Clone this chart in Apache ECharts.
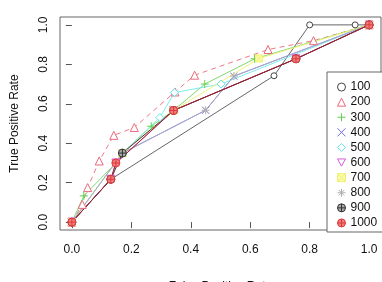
<!DOCTYPE html>
<html>
<head>
<meta charset="utf-8">
<script src="https://cdn.jsdelivr.net/npm/echarts@6/dist/echarts.min.js"></script>
<style>html,body{margin:0;padding:0;background:#fff}#c{width:382px;height:282px}</style>
</head>
<body>
<div id="c"></div>
<script>
// ---- data ----
const seriesNames = ['100','200','300','400','500','600','700','800','900','1000'];
const tickValues = [0, 0.2, 0.4, 0.6, 0.8, 1.0];

const fpr100 = [0, 0.131, 0.68, 0.80, 0.953, 1];
const tpr100 = [0, 0.217, 0.742, 1.0, 1.0, 1.0];
const fpr200 = [0, 0.035, 0.053, 0.092, 0.141, 0.21, 0.347, 0.413, 0.66, 0.813, 1];
const tpr200 = [0, 0.09, 0.175, 0.31, 0.44, 0.48, 0.66, 0.745, 0.875, 0.92, 1];
const fpr300 = [0, 0.04, 0.148, 0.17, 0.267, 0.342, 0.447, 0.615, 1];
const tpr300 = [0, 0.133, 0.30, 0.35, 0.486, 0.566, 0.70, 0.828, 1];
const fpr400 = [0, 0.17, 0.45, 0.545, 1];
const tpr400 = [0, 0.35, 0.567, 0.74, 1];
const fpr500 = [0, 0.17, 0.296, 0.345, 0.502, 1];
const tpr500 = [0, 0.35, 0.53, 0.657, 0.70, 1];
const fpr600 = [0, 0.131, 0.148, 0.342, 0.754, 1];
const tpr600 = [0, 0.217, 0.30, 0.566, 0.828, 1];
const fpr700 = [0, 0.17, 0.342, 0.63, 1];
const tpr700 = [0, 0.35, 0.566, 0.83, 1];
const fpr800 = [0, 0.17, 0.45, 0.545, 1];
const tpr800 = [0, 0.35, 0.567, 0.74, 1];
const fpr900 = [0, 0.131, 0.17, 0.342, 0.754, 1];
const tpr900 = [0, 0.217, 0.35, 0.566, 0.828, 1];
const fpr1000 = [0, 0.131, 0.148, 0.342, 0.754, 1];
const tpr1000 = [0, 0.217, 0.30, 0.566, 0.828, 1];

const fprs = [fpr100, fpr200, fpr300, fpr400, fpr500, fpr600, fpr700, fpr800, fpr900, fpr1000];
const tprs = [tpr100, tpr200, tpr300, tpr400, tpr500, tpr600, tpr700, tpr800, tpr900, tpr1000];

// ---- styles ----
const markColors = ['#444444','#E8697C','#5FCF4F','#6E6EE0','#5EE6E6','#DA5CDA','#F0F070','#B0B0B0','#333333','#E03838'];
const lineColors = ['#666666','#EC7A8B','#7EDB6E','#8A8AE6','#7FEDED','#DA5CDA','#F2F27A','#A8A8C8','#4A3030','#A3202C'];
const lineTypes  = ['solid',[5,4],'solid','solid','solid','solid','solid','solid','solid','solid'];
const P = {
  plus: 'path://M5,0L5,10M0,5L10,5',
  cross: 'path://M0,0L10,10M10,0L0,10',
  inv: 'path://M0,0L10,0L5,9Z',
  sqx: 'path://M0,0L10,0L10,10L0,10ZM0,0L10,10M10,0L0,10',
  ast: 'path://M5,0L5,10M0,5L10,5M1.5,1.5L8.5,8.5M8.5,1.5L1.5,8.5',
  cplus: 'path://M0,5A5,5,0,1,1,10,5A5,5,0,1,1,0,5ZM5,0L5,10M0,5L10,5'
};
const symbols = ['circle','triangle',P.plus,P.cross,'diamond',P.inv,P.sqx,P.ast,P.cplus,P.cplus];
const symSizes = [6,8,8,7,8,8,7,8,8,8];
const fills = ['#fff','#fff','none','none','#fff','#fff','#FBFBB0','none','#aaa','#EE8080'];

const series = seriesNames.map((n, i) => ({
  name: n,
  type: 'line',
  data: fprs[i].map((x, k) => [x, tprs[i][k]]),
  symbol: symbols[i],
  symbolSize: symSizes[i],
  showSymbol: true,
  animation: false,
  lineStyle: { color: lineColors[i], width: 1, type: lineTypes[i] },
  itemStyle: { color: fills[i], borderColor: markColors[i], borderWidth: 1 },
  emphasis: { disabled: true }
}));

const chart = echarts.init(document.getElementById('c'), null, { renderer: 'canvas' });
chart.setOption({
  animation: false,
  backgroundColor: '#fff',
  textStyle: { fontFamily: 'Liberation Sans, Arial, sans-serif' },
  grid: { left: 60, right: 1, top: 17, bottom: 52, outerBoundsMode: 'none', containLabel: false,
          show: true, borderColor: '#666', borderWidth: 1, backgroundColor: 'transparent' },
  xAxis: {
    type: 'value', min: -0.04, max: 1.04,
    name: 'False Positive Rate', nameLocation: 'middle', nameGap: 51,
    nameTextStyle: { fontSize: 12, color: '#111', fontFamily: 'Liberation Sans' },
    axisLine: { show: false },
    splitLine: { show: false },
    axisTick: { show: true, customValues: tickValues, length: 6, inside: false, lineStyle: { color: '#555' } },
    axisLabel: { customValues: tickValues, formatter: v => v.toFixed(1), fontSize: 12, color: '#111', margin: 14, fontFamily: 'Liberation Sans' }
  },
  yAxis: {
    type: 'value', min: -0.04, max: 1.04,
    name: 'True Positive Rate', nameLocation: 'middle', nameGap: 39,
    nameTextStyle: { fontSize: 12, color: '#111', fontFamily: 'Liberation Sans' },
    axisLine: { show: false },
    splitLine: { show: false },
    axisTick: { show: true, customValues: tickValues, length: 6, inside: false, lineStyle: { color: '#555' } },
    axisLabel: { customValues: tickValues, formatter: v => v.toFixed(1), fontSize: 12, color: '#111', margin: 10, rotate: 90, fontFamily: 'Liberation Sans' }
  },
  legend: {
    orient: 'vertical', left: 327, top: 72,
    padding: [8, 6, 2, 8],
    itemWidth: 8, itemHeight: 8, itemGap: 1, itemTextGap: 6,
    borderColor: '#666', borderWidth: 1, backgroundColor: '#fff',
    textStyle: { fontSize: 12, color: '#111', lineHeight: 14.1, fontFamily: 'Liberation Sans' },
    data: seriesNames.map((n, i) => ({
      name: n,
      icon: symbols[i],
      itemStyle: { color: fills[i], borderColor: markColors[i], borderWidth: 1 }
    }))
  },
  series: series
});
</script>
</body>
</html>
